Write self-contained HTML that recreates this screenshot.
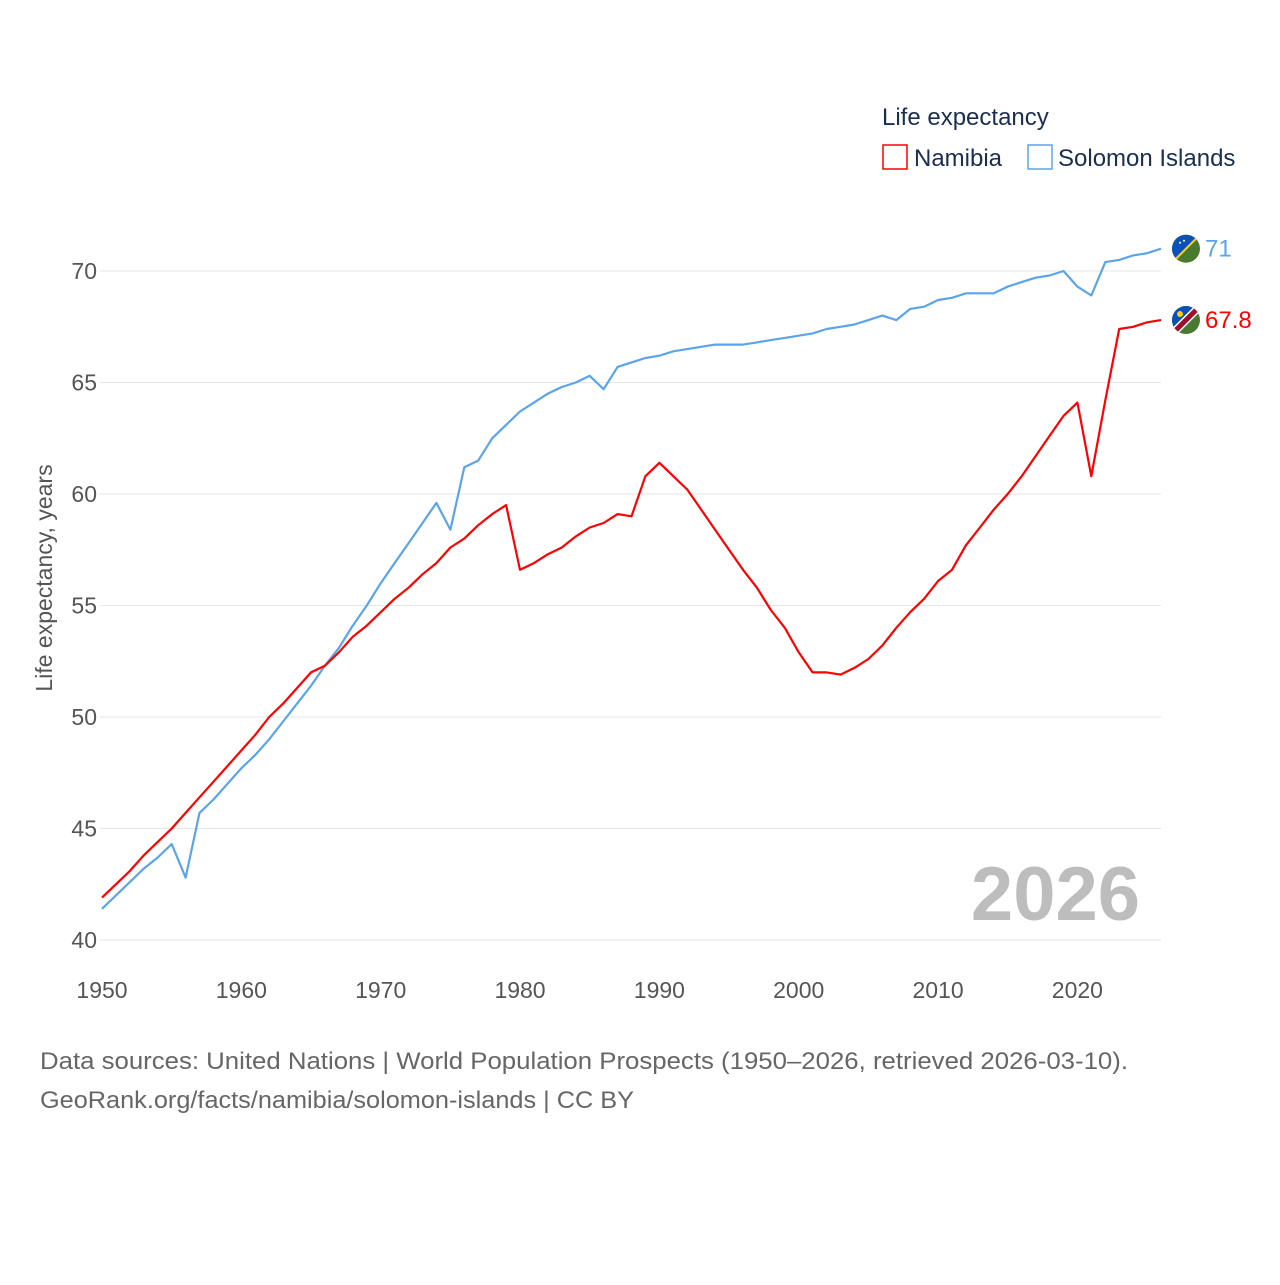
<!DOCTYPE html>
<html><head><meta charset="utf-8"><style>
html,body{margin:0;padding:0;background:#fff;}
body{width:1280px;height:1280px;overflow:hidden;font-family:"Liberation Sans",sans-serif;}
</style></head><body>
<svg id="chart" width="1280" height="1280" xmlns="http://www.w3.org/2000/svg" font-family="Liberation Sans, sans-serif">
  <g id="grid"></g>
  <g id="yticks"></g>
  <g id="xticks"></g>
  <text transform="translate(52,578) rotate(-90)" text-anchor="middle" font-size="23" fill="#555">Life expectancy, years</text>
  <text x="1140" y="920" text-anchor="end" font-size="76" font-weight="bold" fill="#bdbdbd">2026</text>
  <g id="series"></g>
  <g>
    <text x="882" y="125" font-size="24" fill="#1a2e50">Life expectancy</text>
    <rect x="883" y="145" width="24" height="24" fill="none" stroke="#ff0000" stroke-width="1.5"/>
    <text x="914" y="166" font-size="24" fill="#1a2e50">Namibia</text>
    <rect x="1028" y="145" width="24" height="24" fill="none" stroke="#5ba4ea" stroke-width="1.5"/>
    <text x="1058" y="166" font-size="24" fill="#1a2e50">Solomon Islands</text>
  </g>
  <text x="40" y="1069" font-size="24" fill="#666" textLength="1088" lengthAdjust="spacingAndGlyphs">Data sources: United Nations | World Population Prospects (1950–2026, retrieved 2026-03-10).</text>
  <text x="40" y="1108" font-size="24" fill="#666" textLength="594" lengthAdjust="spacingAndGlyphs">GeoRank.org/facts/namibia/solomon-islands | CC BY</text>
</svg>
<script>
const years = [];
for (let y = 1950; y <= 2026; y++) years.push(y);
const namibia = [41.9,42.5,43.1,43.8,44.4,45.0,45.7,46.4,47.1,47.8,48.5,49.2,50.0,50.6,51.3,52.0,52.3,52.9,53.6,54.1,54.7,55.3,55.8,56.4,56.9,57.6,58.0,58.6,59.1,59.5,56.6,56.9,57.3,57.6,58.1,58.5,58.7,59.1,59.0,60.8,61.4,60.8,60.2,59.3,58.4,57.5,56.6,55.8,54.8,54.0,52.9,52.0,52.0,51.9,52.2,52.6,53.2,54.0,54.7,55.3,56.1,56.6,57.7,58.5,59.3,60.0,60.8,61.7,62.6,63.5,64.1,60.8,64.2,67.4,67.5,67.7,67.8];
const solomon = [41.4,42.0,42.6,43.2,43.7,44.3,42.8,45.7,46.3,47.0,47.7,48.3,49.0,49.8,50.6,51.4,52.3,53.1,54.1,55.0,56.0,56.9,57.8,58.7,59.6,58.4,61.2,61.5,62.5,63.1,63.7,64.1,64.5,64.8,65.0,65.3,64.7,65.7,65.9,66.1,66.2,66.4,66.5,66.6,66.7,66.7,66.7,66.8,66.9,67.0,67.1,67.2,67.4,67.5,67.6,67.8,68.0,67.8,68.3,68.4,68.7,68.8,69.0,69.0,69.0,69.3,69.5,69.7,69.8,70.0,69.3,68.9,70.4,70.5,70.7,70.8,71.0];
const yTicks = [40,45,50,55,60,65,70];
const xTicks = [1950,1960,1970,1980,1990,2000,2010,2020];
const endLabels = ["67.8","71"];

const NS = "http://www.w3.org/2000/svg";
const X = yr => 102 + (yr - 1950) * (1161 - 102) / 76;
const Y = v => 271 + (70 - v) * (940 - 271) / 30;
function mk(tag, attrs, parent) {
  const e = document.createElementNS(NS, tag);
  for (const k in attrs) e.setAttribute(k, attrs[k]);
  parent.appendChild(e);
  return e;
}
const grid = document.getElementById('grid');
const yt = document.getElementById('yticks');
const xt = document.getElementById('xticks');
yTicks.forEach(v => {
  const l = mk('line', {x1: 100, x2: 1161, y1: Y(v), y2: Y(v), stroke: '#e6e6e6', 'stroke-width': 1}, grid);
  
  
  const t = mk('text', {x: 97, y: Y(v) + 8, 'text-anchor': 'end', 'font-size': 23, fill: '#555'}, yt);
  t.textContent = v;
  
  
});
xTicks.forEach(v => {
  const t = mk('text', {x: X(v), y: 998, 'text-anchor': 'middle', 'font-size': 23, fill: '#555'}, xt);
  t.textContent = v;
  
  
});
const sg = document.getElementById('series');
function line(vals, color, name) {
  const d = vals.map((v, i) => (i ? 'L' : 'M') + X(years[i]).toFixed(1) + ',' + Y(v).toFixed(1)).join('');
  const p = mk('path', {d: d, fill: 'none', stroke: color, 'stroke-width': 2.2, 'stroke-linejoin': 'round'}, sg);
  
  
}
line(solomon, '#5ba4ea', 'line-solomon-islands');
line(namibia, '#ff0000', 'line-namibia');

function flag(cx, cy, kind) {
  const g = mk('g', {}, sg);
  
  
  const id = 'clip-' + kind;
  const cp = mk('clipPath', {id: id}, g);
  mk('circle', {cx: cx, cy: cy, r: 14}, cp);
  const inner = mk('g', {'clip-path': 'url(#' + id + ')'}, g);
  mk('rect', {x: cx - 15, y: cy - 15, width: 30, height: 30, fill: '#4a7a30'}, inner);
  mk('polygon', {points: (cx-15)+','+(cy-15)+' '+(cx+15)+','+(cy-15)+' '+(cx-15)+','+(cy+15), fill: '#0a52b8'}, inner);
  if (kind === 'namibia') {
    mk('line', {x1: cx - 15, y1: cy + 15, x2: cx + 15, y2: cy - 15, stroke: '#fff', 'stroke-width': 8}, inner);
    mk('line', {x1: cx - 15, y1: cy + 15, x2: cx + 15, y2: cy - 15, stroke: '#a0102a', 'stroke-width': 5}, inner);
    mk('circle', {cx: cx - 6, cy: cy - 6, r: 3, fill: '#ffce00'}, inner);
  } else {
    mk('line', {x1: cx - 15, y1: cy + 15, x2: cx + 15, y2: cy - 15, stroke: '#fcd116', 'stroke-width': 2}, inner);
    mk('circle', {cx: cx - 6, cy: cy - 6, r: 1, fill: '#fff'}, inner);
    mk('circle', {cx: cx - 2, cy: cy - 8, r: 1, fill: '#fff'}, inner);
  }
}
const lastN = namibia[namibia.length - 1], lastS = solomon[solomon.length - 1];
flag(1186, Y(lastS), 'solomon');
flag(1186, Y(lastN), 'namibia');
const tS = mk('text', {x: 1205, y: Y(lastS) + 8, 'font-size': 24, fill: '#5ba4ea'}, sg);
tS.textContent = endLabels[1];


const tN = mk('text', {x: 1205, y: Y(lastN) + 8, 'font-size': 24, fill: '#ff0000'}, sg);
tN.textContent = endLabels[0];


</script>
</body></html>
